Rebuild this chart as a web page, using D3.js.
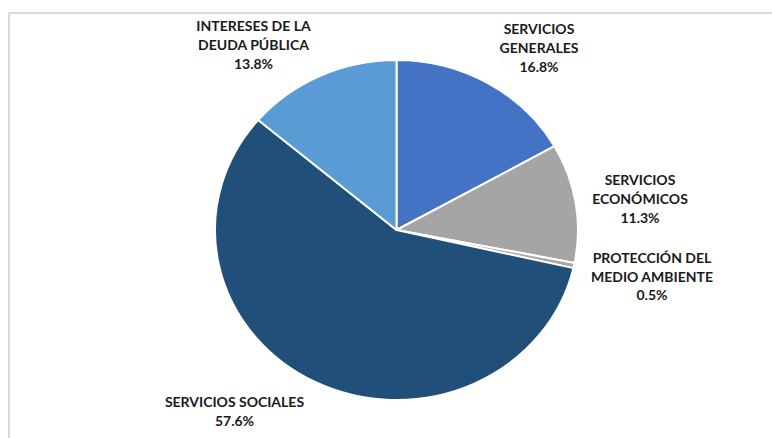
<!DOCTYPE html>
<html>
<head>
<meta charset="utf-8">
<script src="https://cdn.jsdelivr.net/npm/d3@7/dist/d3.min.js"></script>
<style>
  html, body { margin: 0; padding: 0; background: #fff; }
  svg { display: block; }
</style>
</head>
<body>
<svg id="chart" width="772" height="438"></svg>
<script>
// ---- data ----
const categories = [
  "SERVICIOS GENERALES",
  "SERVICIOS ECONÓMICOS",
  "PROTECCIÓN DEL MEDIO AMBIENTE",
  "SERVICIOS SOCIALES",
  "INTERESES DE LA DEUDA PÚBLICA"
];
const values = [16.8, 11.3, 0.5, 57.6, 13.8];
const labelLines = [
  ["SERVICIOS", "GENERALES"],
  ["SERVICIOS", "ECONÓMICOS"],
  ["PROTECCIÓN DEL", "MEDIO AMBIENTE"],
  ["SERVICIOS SOCIALES"],
  ["INTERESES DE LA", "DEUDA PÚBLICA"]
];
const colors = ["#4472C4", "#A5A5A5", "#A8A8A8", "#204F79", "#5B9BD5"];

// ---- layout ----
const W = 772, H = 438;
const cx = 396.5, cy = 230, ry = 170, rx = 181.5;
// label block centre offsets from pie centre (dx, dy)
const labelOffsets = [
  [142.5, -183], [243.5, -32], [255.5, 45.5], [-162, 180.5], [-143, -186]
];
const lineH = 18.7;

const svg = d3.select("#chart");

// frame
svg.append("rect")
  .attr("x", 9).attr("y", 13)
  .attr("width", 900).attr("height", 600)
  .attr("fill", "none")
  .attr("stroke", "#D9D9D9")
  .attr("stroke-width", 2);

const pie = d3.pie().sort(null).value(d => d)(values);
const arc = d3.arc().innerRadius(0).outerRadius(ry);

const g = svg.append("g")
  .attr("transform", `translate(${cx},${cy}) scale(${rx / ry},1)`);

g.selectAll("path")
  .data(pie)
  .join("path")
  .attr("d", arc)
  .attr("fill", (d, i) => colors[i])
  .attr("stroke", "#fff")
  .attr("stroke-width", 2)
  .attr("vector-effect", "non-scaling-stroke")
  .attr("stroke-linejoin", "round");

const fmt = d3.format(".1f");
const labels = svg.append("g")
  .attr("font-family", "Lato, 'Open Sans', sans-serif")
  .attr("font-weight", "bold")
  .attr("font-size", 14)
  .attr("fill", "#1a1a1a")
  .attr("text-anchor", "middle");

categories.forEach((c, i) => {
  const lines = labelLines[i].concat([fmt(values[i]) + "%"]);
  const [dx, dy] = labelOffsets[i];
  const x = cx + dx;
  const y0 = cy + dy - (lines.length - 1) * lineH / 2;
  const t = labels.append("text")
    .attr("x", x)
    .attr("y", y0)
    .attr("dominant-baseline", "central");
  lines.forEach((ln, j) => {
    t.append("tspan")
      .attr("x", x)
      .attr("y", y0 + j * lineH)
      .text(ln);
  });
});
</script>
</body>
</html>
